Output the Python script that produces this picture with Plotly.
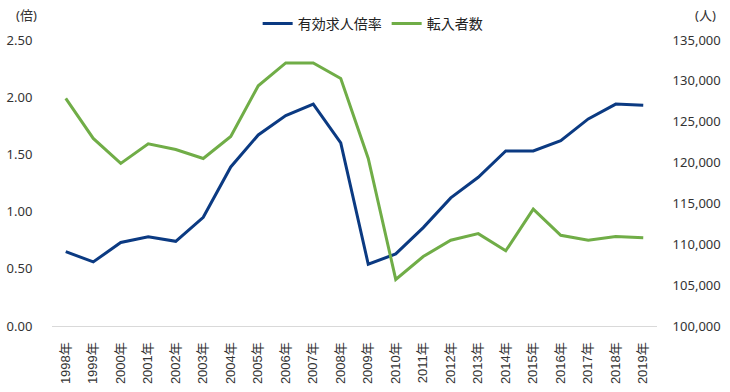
import plotly.graph_objects as go

years = [f"{y}年" for y in range(1998, 2020)]
ratio = [0.65, 0.56, 0.73, 0.78, 0.74, 0.95, 1.39, 1.67, 1.84, 1.94, 1.60,
         0.54, 0.63, 0.86, 1.12, 1.30, 1.53, 1.53, 1.62, 1.81, 1.94, 1.93]
movers = [127850, 122950, 119900, 122300, 121600, 120500, 123200, 129400,
          132200, 132200, 130300, 120500, 105700, 108500, 110500, 111300,
          109200, 114300, 111100, 110500, 110950, 110800]
left_ticks = [0, 0.5, 1.0, 1.5, 2.0, 2.5]
right_ticks = [100000, 105000, 110000, 115000, 120000, 125000, 130000, 135000]

BLUE = "#0b3a82"
GREEN = "#70ad47"
TXT = "#333333"

fig = go.Figure()
fig.add_trace(go.Scatter(x=years, y=ratio, name="有効求人倍率", mode="lines",
                         line=dict(color=BLUE, width=3), yaxis="y"))
fig.add_trace(go.Scatter(x=years, y=movers, name="転入者数", mode="lines",
                         line=dict(color=GREEN, width=3), yaxis="y2"))

fig.update_layout(
    width=730, height=392,
    margin=dict(l=52, r=73, t=40, b=66, autoexpand=False),
    plot_bgcolor="white", paper_bgcolor="white",
    font=dict(family="Noto Sans, Noto Sans CJK JP", size=13, color=TXT),
    showlegend=True,
    legend=dict(orientation="h", x=0.53, xanchor="center", y=1.0, yanchor="bottom",
                font=dict(size=14, color="#222222"), itemwidth=30, tracegroupgap=0),
    xaxis=dict(type="category", range=[-0.5, 21.5], tickangle=-90,
               showline=True, linecolor="#d9d9d9", linewidth=1,
               showgrid=False, ticks="outside", ticklen=10, tickcolor="rgba(0,0,0,0)",
               tickfont=dict(family="Liberation Sans, Noto Sans CJK JP", size=13, color=TXT)),
    yaxis=dict(range=[0, 2.5], tickvals=left_ticks, tickformat=".2f",
               showgrid=False, zeroline=False, showline=False,
               ticks="outside", ticklen=16, tickcolor="rgba(0,0,0,0)",
               tickfont=dict(size=13, color=TXT)),
    yaxis2=dict(range=[100000, 135000], tickvals=right_ticks, tickformat=",d",
                overlaying="y", side="right", showgrid=False, zeroline=False,
                showline=False, ticks="outside", ticklen=12, tickcolor="rgba(0,0,0,0)",
                tickfont=dict(size=13, color=TXT)),
    annotations=[
        dict(text="(倍)", xref="paper", yref="paper", x=-0.062, y=1.0,
             xanchor="left", yanchor="bottom", yshift=14, showarrow=False,
             font=dict(size=13, color=TXT)),
        dict(text="(人)", xref="paper", yref="paper", x=1.06, y=1.0,
             xanchor="left", yanchor="bottom", yshift=14, showarrow=False,
             font=dict(size=13, color=TXT)),
    ],
)

fig.write_html("out.html", config={"displayModeBar": False},
               post_script="document.body.style.margin='0';")
